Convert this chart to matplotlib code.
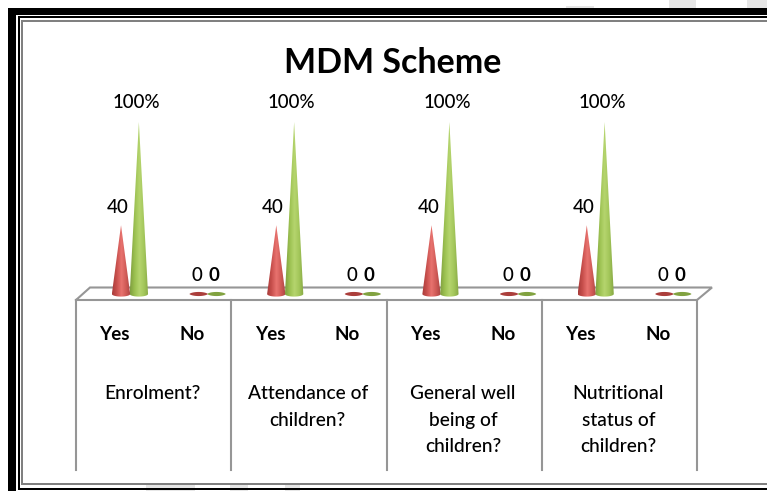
import numpy as np
import matplotlib
matplotlib.use('Agg')
import matplotlib.pyplot as plt
from matplotlib.patches import Polygon, Rectangle
from matplotlib.colors import LinearSegmentedColormap

plt.rcParams['font.family'] = ['Lato', 'DejaVu Sans']

W, H = 767, 491

# Data
title = 'MDM Scheme'
questions = ['Enrolment?', 'Attendance of\nchildren?', 'General well\nbeing of\nchildren?', 'Nutritional\nstatus of\nchildren?']
answers = ['Yes', 'No'] * 4
series_red = [40, 0, 40, 0, 40, 0, 40, 0]
series_green = [100, 0, 100, 0, 100, 0, 100, 0]
labels_red = ['40', '0', '40', '0', '40', '0', '40', '0']
labels_green = ['100%', '0', '100%', '0', '100%', '0', '100%', '0']

red_cmap = LinearSegmentedColormap.from_list('r', ['#a83c3a', '#c9504d', '#e8736f', '#d05a56', '#a94442'])
green_cmap = LinearSegmentedColormap.from_list('g', ['#7f9f3f', '#9cc151', '#b5d56e', '#a3c65a', '#86a843'])

fig = plt.figure(figsize=(W / 100, H / 100), dpi=100)

# background axes in pixel coordinates, for frame and floor
bg = fig.add_axes([0, 0, 1, 1])
bg.set_xlim(0, W)
bg.set_ylim(H, 0)
bg.axis('off')


def bar(x0, y0, x1, y1, color):
    bg.add_patch(Rectangle((x0, y0), x1 - x0, y1 - y0, fc=color, ec='none'))


# faint watermark showing through at the page edges
for x0, y0, x1, y1 in [(566, 6, 594, 21), (618, 15, 643, 21), (669, 0, 696, 21), (747, 0, 767, 21),
                       (146, 485, 195, 491), (230, 485, 248, 491), (285, 485, 300, 491)]:
    bar(x0, y0, x1, y1, '#e6e6e6')

# page border
bar(8, 8, 16, 491, 'black')
bar(16, 8, 767, 15, 'black')
bar(16, 15, 767, 16, 'white')
bar(18, 16, 767, 18, 'black')
bar(18, 16, 19.5, 490, 'black')
bar(19.5, 18, 767, 19.5, 'white')
bar(21, 19.5, 767, 21.5, '#808080')
bar(21, 19.5, 23, 485, '#808080')
bar(21, 483, 767, 485, '#808080')
bar(18, 487.5, 767, 490, 'black')

# floor of the 3D chart
gray = '#969696'
bg.plot([76, 90, 712, 697, 76], [300, 287.5, 287.5, 300, 300], color=gray, lw=1.5, solid_joinstyle='miter')
for x in [76, 231.2, 386.5, 541.8, 697]:
    bg.plot([x, x], [300, 470], color=gray, lw=1.5)

# data axes: value 0 at y=294 px, 100 at y=122 px, a bit of room under 0 for the cone bases
ymin = -3
ax = fig.add_axes([76 / W, 1 - (294 + 1.72 * -ymin) / H, 621 / W, 1.72 * (100 - ymin) / H])
ax.set_xlim(-0.5, 7.5)
ax.set_ylim(ymin, 100)
ax.axis('off')
ax.patch.set_alpha(0)

off_red, off_green = 0.08, 0.31
hw = 0.118


def cone(xc, v, cmap):
    if v == 0:
        # flat pointed disc for the zero values
        t = np.linspace(0, 2 * np.pi, 40)
        ax.fill(xc + hw * np.cos(t), 1.2 * np.sin(t) * np.abs(np.sin(t)) ** 0.3, color=cmap(0.02), lw=0)
        return
    t = np.linspace(np.pi, 2 * np.pi, 30)
    pts = [(xc + hw * np.cos(a), 1.5 * np.sin(a)) for a in t] + [(xc, v)]
    poly = Polygon(pts, closed=True, fc='none', ec='none', transform=ax.transData)
    ax.add_patch(poly)
    im = ax.imshow(np.linspace(0, 1, 64).reshape(1, -1), cmap=cmap, aspect='auto',
                   extent=[xc - hw, xc + hw, -2, v], zorder=2)
    im.set_clip_path(poly)


for i in range(8):
    cone(i + off_red, series_red[i], red_cmap)
    cone(i + off_green, series_green[i], green_cmap)
    if series_green[i] > 0:
        ax.text(i + off_green - 0.03, series_green[i] + 11.5, labels_green[i], ha='center', va='center', fontsize=13.5, color='black', fontweight='medium')
        ax.text(i + off_red - 0.04, series_red[i] + 10.5, labels_red[i], ha='center', va='center', fontsize=13.5, color='black', fontweight='medium')
    else:
        ax.text(i + off_red - 0.02, 11, labels_red[i], ha='center', va='center', fontsize=13.5, color='black', fontweight='medium')
        ax.text(i + off_green - 0.03, 11, labels_green[i], ha='center', va='center', fontsize=13.5, color='black', fontweight='bold')
ax.set_xlim(-0.5, 7.5)
ax.set_ylim(ymin, 100)

# axis text
for i, a in enumerate(answers):
    bg.text(76 + 77.6 * (i + 0.5), 334, a, ha='center', va='center', fontsize=13.5, fontweight='bold', color='black')
for i, q in enumerate(questions):
    bg.text(76 + 155.25 * (i + 0.5) - 1, 385, q, ha='center', va='top', fontsize=13.8, color='black', linespacing=1.68, fontweight='medium')

bg.text(393, 63, title, ha='center', va='center', fontsize=24.5, fontweight='bold', color='black')

fig.savefig('out.png', dpi=100)
